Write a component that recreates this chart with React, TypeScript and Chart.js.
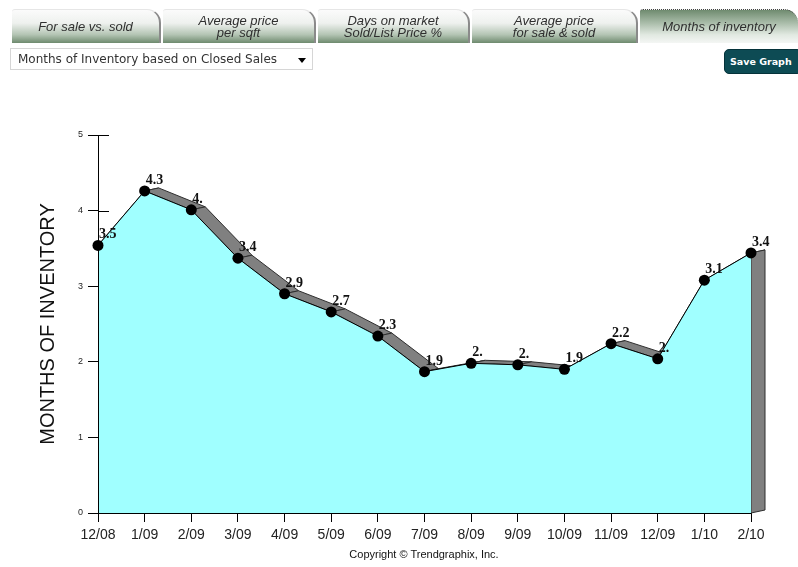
import React, { useEffect, useRef } from "react";
import { Chart, registerables } from "chart.js";

Chart.register(...registerables);

// Monthly months-of-inventory readings (closed sales)
const months = ["12/08", "1/09", "2/09", "3/09", "4/09", "5/09", "6/09", "7/09", "8/09", "9/09", "10/09", "11/09", "12/09", "1/10", "2/10"];
const inventory = [3.54, 4.26, 4.01, 3.37, 2.9, 2.66, 2.34, 1.87, 1.98, 1.96, 1.9, 2.24, 2.04, 3.08, 3.44];
const yTicks = [0, 1, 2, 3, 4, 5];

const tabs = [
  { lines: ["For sale vs. sold"], left: 12, width: 151 },
  { lines: ["Average price", "per sqft"], left: 163, width: 155 },
  { lines: ["Days on market", "Sold/List Price %"], left: 318, width: 154 },
  { lines: ["Average price", "for sale & sold"], left: 472, width: 168 },
  { lines: ["Months of inventory"], left: 640, width: 160, active: true },
];

// depth of the extruded "3D" look
const DX = 14;
const DY = -3;

const formatValue = (v: number) => v.toFixed(1).replace(/0$/, "");

const depthPlugin = {
  id: "depth3d",
  beforeDatasetsDraw(chart: any) {
    const ctx = chart.ctx as CanvasRenderingContext2D;
    const pts = chart.getDatasetMeta(0).data as any[];
    const ys = chart.scales.y;
    const area = chart.chartArea;
    ctx.save();
    // tick stubs poking into the plot, covered by the area where it lies over them
    ctx.strokeStyle = "#000";
    ctx.lineWidth = 1;
    yTicks.forEach((v) => {
      const y = Math.round(ys.getPixelForValue(v)) + 0.5;
      ctx.beginPath();
      ctx.moveTo(area.left, y);
      ctx.lineTo(area.left + 11, y);
      ctx.stroke();
    });
    // top surface between front and back edges
    ctx.fillStyle = "#808080";
    ctx.strokeStyle = "#2e2e2e";
    for (let i = 0; i < pts.length - 1; i++) {
      const p = pts[i];
      const q = pts[i + 1];
      ctx.beginPath();
      ctx.moveTo(p.x, p.y);
      ctx.lineTo(q.x, q.y);
      ctx.lineTo(q.x + DX, q.y + DY);
      ctx.lineTo(p.x + DX, p.y + DY);
      ctx.closePath();
      ctx.fill();
      ctx.stroke();
    }
    // right side face
    const last = pts[pts.length - 1];
    const base = ys.getPixelForValue(0);
    ctx.beginPath();
    ctx.moveTo(last.x, last.y);
    ctx.lineTo(last.x + DX, last.y + DY);
    ctx.lineTo(last.x + DX, base + DY);
    ctx.lineTo(last.x, base);
    ctx.closePath();
    ctx.fill();
    ctx.stroke();
    ctx.restore();
  },
  afterDatasetsDraw(chart: any) {
    const ctx = chart.ctx as CanvasRenderingContext2D;
    const pts = chart.getDatasetMeta(0).data as any[];
    const area = chart.chartArea;
    ctx.save();
    // axis lines on top of the fill
    ctx.strokeStyle = "#000";
    ctx.lineWidth = 1;
    ctx.beginPath();
    ctx.moveTo(area.left + 0.5, area.top);
    ctx.lineTo(area.left + 0.5, area.bottom + 0.5);
    ctx.lineTo(area.right, area.bottom + 0.5);
    ctx.stroke();
    // points again so they sit above the axis line
    ctx.fillStyle = "#000";
    pts.forEach((p) => {
      ctx.beginPath();
      ctx.arc(p.x, p.y, 5.5, 0, Math.PI * 2);
      ctx.fill();
    });
    // value labels
    ctx.fillStyle = "#111";
    ctx.font = "bold 14px 'Liberation Serif', serif";
    ctx.textAlign = "left";
    ctx.textBaseline = "alphabetic";
    pts.forEach((p, i) => {
      ctx.fillText(formatValue(inventory[i]), p.x + 1, p.y - 7);
    });
    ctx.restore();
  },
};

function InventoryChart() {
  const ref = useRef<HTMLCanvasElement | null>(null);
  useEffect(() => {
    if (!ref.current) return;
    const chart = new Chart(ref.current, {
      type: "line",
      data: {
        labels: months,
        datasets: [
          {
            data: inventory,
            borderColor: "#000",
            borderWidth: 1,
            backgroundColor: "#a0ffff",
            fill: "origin",
            tension: 0,
            pointRadius: 0,
          },
        ],
      },
      options: {
        animation: false,
        responsive: false,
        events: [],
        layout: { padding: { left: 0, top: 135, right: 47, bottom: 0 } },
        plugins: { legend: { display: false }, tooltip: { enabled: false } },
        scales: {
          x: {
            type: "category",
            offset: false,
            afterFit: (s: any) => {
              s.height = 54;
            },
            grid: { drawOnChartArea: false, color: "#000", tickLength: 9 },
            border: { display: false },
            ticks: {
              autoSkip: false,
              maxRotation: 0,
              padding: 5,
              color: "#222",
              font: { family: "'Liberation Sans', Arial, sans-serif", size: 14 },
            },
          },
          y: {
            min: 0,
            max: 5,
            afterFit: (s: any) => {
              s.width = 98;
            },
            afterBuildTicks: (s: any) => {
              s.ticks = yTicks.map((v) => ({ value: v }));
            },
            grid: { drawOnChartArea: false, color: "#000", tickLength: 10 },
            border: { display: false },
            ticks: {
              padding: 5,
              color: "#222",
              font: { family: "'Liberation Sans', Arial, sans-serif", size: 9 },
            },
            title: {
              display: true,
              text: "MONTHS OF INVENTORY",
              color: "#111",
              padding: { top: 36, bottom: 0 },
              font: { family: "'Liberation Sans', Arial, sans-serif", size: 20 },
            },
          },
        },
      },
      plugins: [depthPlugin],
    });
    return () => chart.destroy();
  }, []);
  return (
    <canvas
      ref={ref}
      width={798}
      height={567}
      style={{ position: "absolute", left: 0, top: 0, width: 798, height: 567 }}
    />
  );
}

export default function App() {
  return (
    <div
      style={{
        position: "absolute",
        left: 0,
        top: 0,
        width: 798,
        height: 567,
        background: "#fff",
        overflow: "hidden",
        fontFamily: "'Liberation Sans', Arial, sans-serif",
      }}
    >
      <InventoryChart />
      {tabs.map((t, i) => (
        <div
          key={i}
          style={{
            position: "absolute",
            left: t.left,
            top: 9,
            width: t.width - 2,
            height: 34,
            borderTopLeftRadius: 3,
            borderTopRightRadius: 14,
            borderRight: t.active ? "none" : "2px solid #8a8a8a",
            borderTop: t.active ? "1px dotted #444" : "1px solid #e6e6e6",
            background: t.active
              ? "linear-gradient(to bottom, #6f8b6f 0%, #a3b7a3 35%, #e1e9e1 75%, #f4f6f4 100%)"
              : "linear-gradient(to bottom, #fbfbfb 0%, #eef1ee 40%, #b3c4b3 75%, #6e8a6e 100%)",
            display: "flex",
            flexDirection: "column",
            justifyContent: "center",
            alignItems: "center",
            fontStyle: "italic",
            fontSize: 13,
            lineHeight: "12px",
            color: "#2f2f2f",
            boxSizing: "border-box",
          }}
        >
          {t.lines.map((l, j) => (
            <span key={j}>{l}</span>
          ))}
        </div>
      ))}
      <div
        style={{
          position: "absolute",
          left: 10,
          top: 48,
          width: 303,
          height: 22,
          border: "1px solid #d6d6d6",
          boxSizing: "border-box",
          fontFamily: "'DejaVu Sans', Verdana, sans-serif",
          fontSize: 12,
          color: "#333",
          lineHeight: "20px",
          paddingLeft: 7,
        }}
      >
        Months of Inventory based on Closed Sales
        <span
          style={{
            position: "absolute",
            left: 287,
            top: 9,
            width: 0,
            height: 0,
            borderLeft: "4px solid transparent",
            borderRight: "4px solid transparent",
            borderTop: "5px solid #000",
          }}
        />
      </div>
      <div
        style={{
          position: "absolute",
          left: 724,
          top: 49,
          width: 78,
          height: 25,
          background: "#0d4b54",
          border: "1px solid #05323a",
          borderRadius: 5,
          boxSizing: "border-box",
          color: "#fff",
          fontFamily: "'DejaVu Sans', Verdana, sans-serif",
          fontWeight: "bold",
          fontSize: 9.5,
          lineHeight: "23px",
          paddingLeft: 5,
        }}
      >
        Save Graph
      </div>
      <div
        style={{
          position: "absolute",
          left: 0,
          width: 848,
          top: 548,
          textAlign: "center",
          fontSize: 11,
          color: "#111",
        }}
      >
        Copyright © Trendgraphix, Inc.
      </div>
    </div>
  );
}
